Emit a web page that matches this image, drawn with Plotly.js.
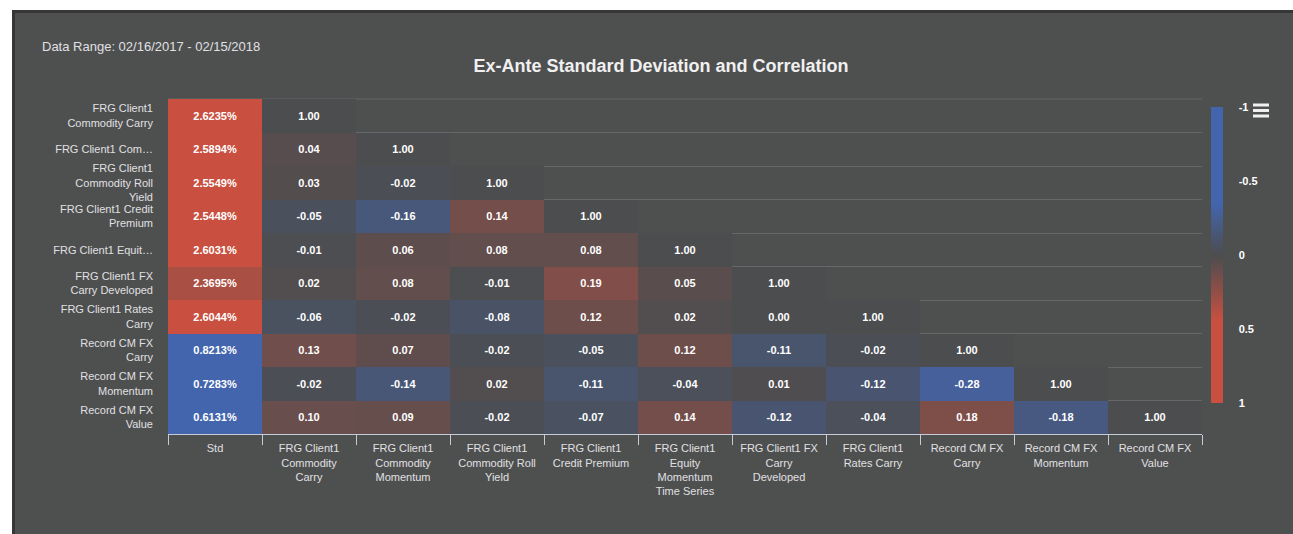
<!DOCTYPE html>
<html>
<head>
<meta charset="utf-8">
<script src="https://cdn.plot.ly/plotly-3.0.1.min.js"></script>
<style>
  html, body { margin: 0; padding: 0; background: #ffffff; width: 1293px; height: 534px; overflow: hidden; }
  #frame { position: absolute; left: 12px; top: 10px; width: 1281px; height: 524px; background: #363636; }
  #chart { position: absolute; left: 3px; top: 3px; width: 1278px; height: 521px; }
</style>
</head>
<body>
<div id="frame"><div id="chart"></div></div>
<script>
// ---------------- data ----------------
const xLabels = [
  "Std",
  "FRG Client1<br>Commodity<br>Carry",
  "FRG Client1<br>Commodity<br>Momentum",
  "FRG Client1<br>Commodity Roll<br>Yield",
  "FRG Client1<br>Credit Premium",
  "FRG Client1<br>Equity<br>Momentum<br>Time Series",
  "FRG Client1 FX<br>Carry<br>Developed",
  "FRG Client1<br>Rates Carry",
  "Record CM FX<br>Carry",
  "Record CM FX<br>Momentum",
  "Record CM FX<br>Value"
];
const yLabels = [
  "FRG Client1<br>Commodity Carry",
  "FRG Client1 Com…",
  "FRG Client1<br>Commodity Roll<br>Yield",
  "FRG Client1 Credit<br>Premium",
  "FRG Client1 Equit…",
  "FRG Client1 FX<br>Carry Developed",
  "FRG Client1 Rates<br>Carry",
  "Record CM FX<br>Carry",
  "Record CM FX<br>Momentum",
  "Record CM FX<br>Value"
];
const stdValues = [2.6235, 2.5894, 2.5549, 2.5448, 2.6031, 2.3695, 2.6044, 0.8213, 0.7283, 0.6131];
const correlations = [
  [1.00],
  [0.04, 1.00],
  [0.03, -0.02, 1.00],
  [-0.05, -0.16, 0.14, 1.00],
  [-0.01, 0.06, 0.08, 0.08, 1.00],
  [0.02, 0.08, -0.01, 0.19, 0.05, 1.00],
  [-0.06, -0.02, -0.08, 0.12, 0.02, 0.00, 1.00],
  [0.13, 0.07, -0.02, -0.05, 0.12, -0.11, -0.02, 1.00],
  [-0.02, -0.14, 0.02, -0.11, -0.04, 0.01, -0.12, -0.28, 1.00],
  [0.10, 0.09, -0.02, -0.07, 0.14, -0.12, -0.04, 0.18, -0.18, 1.00]
];
const colorbarTicks = ["-1", "-0.5", "0", "0.5", "1"];

// ---------------- styling ----------------
const BG = "#4e4f4f";
const BLUE = "#4365ae", GREY = "#4c4d4f", RED = "#c95040";
const FONT = "'Liberation Sans', Arial, Helvetica, sans-serif";
const TXT = "#e0e0e3";
const GRID = "#666768";
const stdColorRange = [1.7, 2.7];

const nRows = yLabels.length, nCols = xLabels.length;

// std column matrix (full width, only first column filled)
const stdZ = [], stdText = [];
// correlation matrix (full width, first column empty); colour value negated so colorbar shows -1 on top
const corrColor = [], corrText = [];
for (let i = 0; i < nRows; i++) {
  const sZ = [], sT = [], cZ = [], cT = [];
  for (let c = 0; c < nCols; c++) {
    if (c === 0) {
      sZ.push(stdValues[i]); sT.push(stdValues[i].toFixed(4) + "%");
      cZ.push(null); cT.push("");
    } else {
      sZ.push(null); sT.push("");
      const j = c - 1;
      if (j < i) { cZ.push(-correlations[i][j]); cT.push(correlations[i][j].toFixed(2)); }
      else if (j === i) { cZ.push(0); cT.push(correlations[i][j].toFixed(2)); }
      else { cZ.push(null); cT.push(""); }
    }
  }
  stdZ.push(sZ); stdText.push(sT); corrColor.push(cZ); corrText.push(cT);
}

const stdTrace = {
  type: "heatmap",
  x: xLabels, y: yLabels,
  z: stdZ, text: stdText,
  texttemplate: "<b>%{text}</b>",
  textfont: { family: FONT, size: 11, color: "#ffffff" },
  zmin: stdColorRange[0], zmax: stdColorRange[1],
  colorscale: [[0, BLUE], [0.325, BLUE], [0.5, GREY], [0.725, RED], [1, RED]],
  showscale: false, hoverinfo: "skip"
};

const corrTrace = {
  type: "heatmap",
  x: xLabels, y: yLabels,
  z: corrColor, text: corrText,
  texttemplate: "<b>%{text}</b>",
  textfont: { family: FONT, size: 11, color: "#ffffff" },
  zmin: -1, zmax: 1,
  colorscale: [[0, RED], [0.275, RED], [0.5, GREY], [0.675, BLUE], [1, BLUE]],
  hoverinfo: "skip",
  colorbar: {
    x: 1.0087, xanchor: "left", xpad: 0, ypad: 0,
    y: 0.535, yanchor: "middle", len: 0.884, lenmode: "fraction",
    thickness: 12, thicknessmode: "pixels",
    outlinewidth: 0,
    tickvals: [1, 0.5, 0, -0.5, -1],
    ticktext: colorbarTicks.map(t => "<b>" + t + "</b>"),
    ticks: "outside", ticklen: 14, tickcolor: "rgba(0,0,0,0)",
    tickfont: { family: FONT, size: 11, color: "#ffffff" }
  }
};

// helpers for decorative menu icon / top grid border
const L = 153, T = 86, PW = 1034, PH = 335;
const px = x => (x - L) / PW, py = y => (T + PH - y) / PH;
const menuShapes = [92, 97.5, 103].map(y => ({
  type: "line", xref: "paper", yref: "paper",
  x0: px(1238), x1: px(1254), y0: py(y), y1: py(y),
  line: { color: "#f0f0f0", width: 3 }
}));
const topGrid = {
  type: "line", xref: "paper", yref: "paper", layer: "below",
  x0: 0, x1: 1, y0: 1, y1: 1, line: { color: GRID, width: 1 }
};

const layout = {
  width: 1278, height: 521,
  paper_bgcolor: BG, plot_bgcolor: BG,
  margin: { l: 153, r: 91, t: 86, b: 100 },
  font: { family: FONT, color: TXT, size: 11 },
  title: {
    text: "<b>Ex-Ante Standard Deviation and Correlation</b>",
    font: { family: FONT, size: 18, color: "#f0f0f0" },
    xref: "container", x: 0.5055, xanchor: "center",
    yref: "container", y: 1 - 53 / 521, yanchor: "middle"
  },
  xaxis: {
    type: "category", categoryorder: "array", categoryarray: xLabels,
    tickson: "boundaries", ticks: "outside", ticklen: 10, tickwidth: 1,
    tickcolor: "#c5ccd8", showline: true, linecolor: "#c5ccd8", linewidth: 1,
    showgrid: false, zeroline: false, fixedrange: true, ticklabelstandoff: 4,
    tickfont: { family: FONT, size: 11, color: TXT }
  },
  yaxis: {
    type: "category", categoryorder: "array", categoryarray: yLabels,
    autorange: "reversed",
    tickson: "boundaries", ticks: "", showgrid: true, gridcolor: GRID, gridwidth: 1,
    showline: false, zeroline: false, fixedrange: true, ticklabelstandoff: 14,
    tickfont: { family: FONT, size: 11, color: TXT }
  },
  annotations: [{
    text: "Data Range: 02/16/2017 - 02/15/2018",
    xref: "paper", yref: "paper",
    x: px(25), y: py(33), xanchor: "left", yanchor: "middle",
    showarrow: false, font: { family: FONT, size: 13, color: TXT }
  }],
  shapes: [topGrid].concat(menuShapes)
};

Plotly.newPlot("chart", [stdTrace, corrTrace], layout, { displayModeBar: false, staticPlot: true });
</script>
</body>
</html>
